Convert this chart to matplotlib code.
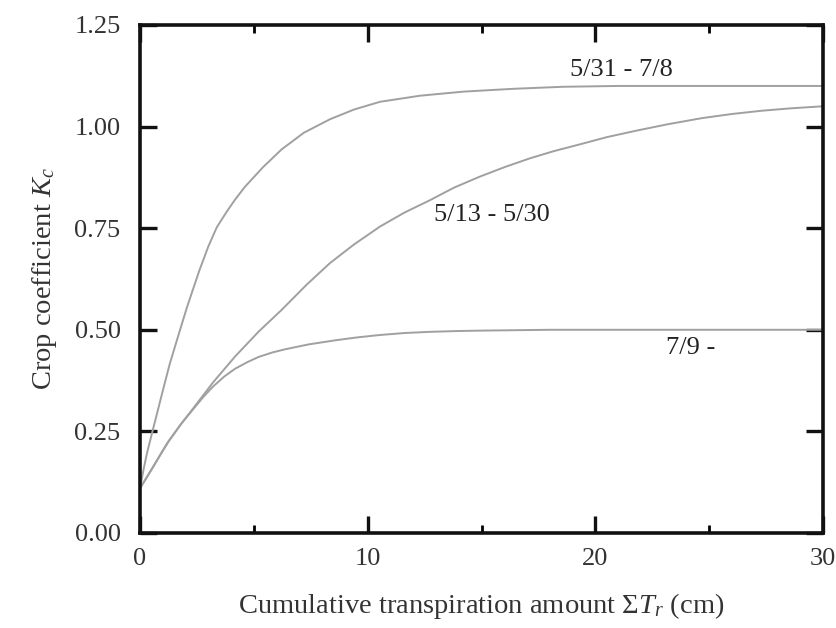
import numpy as np
import matplotlib
matplotlib.use('Agg')
import matplotlib.pyplot as plt
from matplotlib.ticker import MultipleLocator

plt.rcParams['font.family'] = ['Liberation Serif', 'DejaVu Serif']
plt.rcParams['mathtext.fontset'] = 'custom'
plt.rcParams['mathtext.rm'] = 'Liberation Serif'
plt.rcParams['mathtext.it'] = 'Liberation Serif:italic'

# points
x_a = [0, 0.15, 0.3, 0.5, 0.66, 1.0, 1.3, 1.65, 2.06, 2.6, 3.0, 3.37, 3.8, 4.17, 4.61, 5.4, 6.22, 7.2, 8.34, 9.4, 10.54, 12.3, 14.2, 16.4, 18.6, 21, 24, 27, 30]
y_a = [0.11, 0.155, 0.195, 0.24, 0.275, 0.35, 0.415, 0.48, 0.555, 0.645, 0.705, 0.752, 0.79, 0.82, 0.852, 0.90, 0.944, 0.985, 1.018, 1.042, 1.061, 1.076, 1.086, 1.093, 1.098, 1.1, 1.1, 1.1, 1.1]

x_b = [0, 0.22, 0.6, 0.95, 1.24, 1.8, 2.34, 3.2, 4.17, 5.2, 6.22, 7.3, 8.34, 9.4, 10.54, 11.6, 12.74, 13.8, 14.93, 16, 17.13, 18.2, 19.3, 20.5, 21.8, 23.2, 24.7, 26, 27.3, 28.6, 30]
y_b = [0.11, 0.13, 0.165, 0.198, 0.225, 0.268, 0.307, 0.37, 0.434, 0.495, 0.549, 0.61, 0.664, 0.71, 0.754, 0.788, 0.819, 0.85, 0.877, 0.9, 0.922, 0.94, 0.956, 0.974, 0.99, 1.006, 1.021, 1.031, 1.039, 1.045, 1.05]

x_c = [0, 0.22, 0.6, 0.95, 1.24, 1.8, 2.34, 2.8, 3.2, 3.7, 4.17, 4.7, 5.2, 5.8, 6.37, 7.4, 8.56, 9.5, 10.5, 11.6, 12.74, 14, 15, 18, 22, 26, 30]
y_c = [0.11, 0.13, 0.165, 0.198, 0.224, 0.268, 0.305, 0.336, 0.36, 0.385, 0.404, 0.42, 0.433, 0.444, 0.452, 0.464, 0.474, 0.481, 0.487, 0.492, 0.495, 0.497, 0.498, 0.5, 0.5, 0.5, 0.5]

labels = ['5/31 - 7/8', '5/13 - 5/30', '7/9 -']
label_x = [21.15, 15.44, 24.19]
label_y = [1.139, 0.782, 0.454]

fig = plt.figure(figsize=(8.37, 6.28), dpi=100)
ax = fig.add_axes([0.1673, 0.1513, 0.8160, 0.8089])

line_col = '#a0a0a0'
for xs, ys in [(x_a, y_a), (x_b, y_b), (x_c, y_c)]:
    ax.plot(xs, ys, color=line_col, lw=1.4, solid_joinstyle='round')

for txt, tx, ty in zip(labels, label_x, label_y):
    ax.text(tx, ty, txt, fontsize=19, ha='center', va='center', color='#222222')

ax.set_xlim(0, 30)
ax.set_ylim(0, 1.25)
ax.xaxis.set_major_locator(MultipleLocator(10))
ax.xaxis.set_minor_locator(MultipleLocator(5))
ax.set_yticks([0, 0.25, 0.5, 0.75, 1.0, 1.25])
ax.set_yticklabels(['0.00', '0.25', '0.50', '0.75', '1.00', '1.25'])

for s in ax.spines.values():
    s.set_linewidth(2.6)
    s.set_color('#111111')

ax.tick_params(which='major', direction='in', length=12, width=2.4, top=True, right=True,
               labelsize=19, colors='#111111', labelcolor='#333333', pad=14)
ax.tick_params(which='minor', direction='in', length=6, width=2.0, top=True, right=True)
ax.tick_params(axis='x', pad=11)

ax.set_xlabel(r'Cumulative transpiration amount $\Sigma T_r$ (cm)', fontsize=20.5, color='#333333', labelpad=15)
ax.set_ylabel(r'Crop coefficient $K_c$', fontsize=20.5, color='#333333', labelpad=11)

fig.savefig('out.png', dpi=100)
